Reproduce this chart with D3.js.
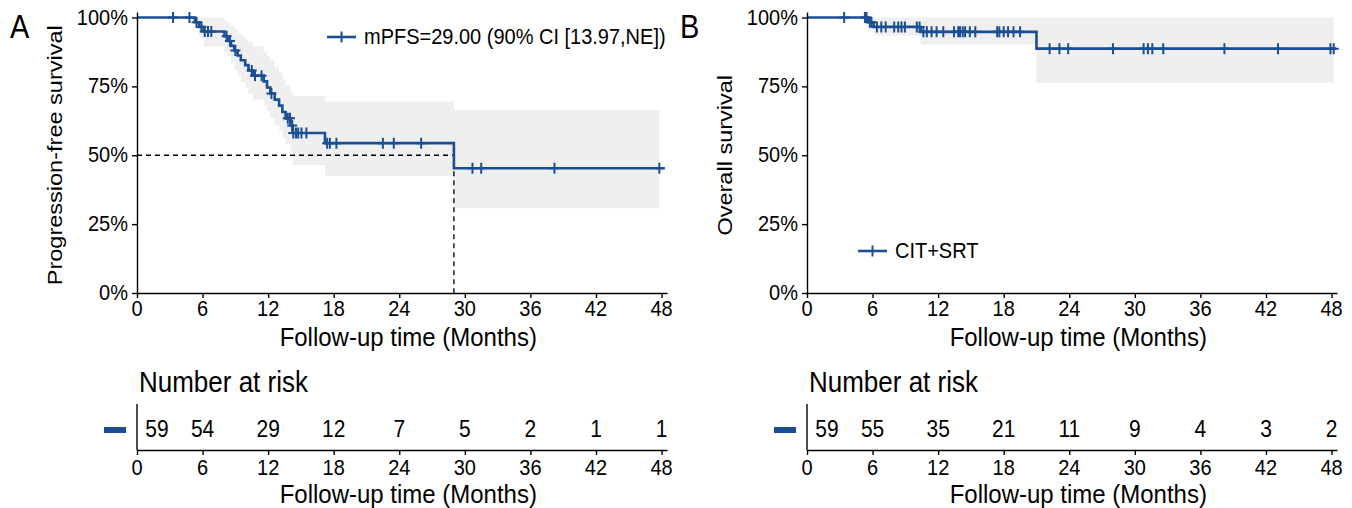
<!DOCTYPE html>
<html><head><meta charset="utf-8">
<script src="https://cdn.jsdelivr.net/npm/d3@7"></script>
<style>
html,body{margin:0;padding:0;background:#fff;}
svg{display:block;}
text{font-family:"Liberation Sans",Arial,sans-serif;fill:#000;}
</style></head>
<body>
<svg id="chart" width="1352" height="508"></svg>
<script>
// ---------- DATA ----------
const xTicks = [0, 6, 12, 18, 24, 30, 36, 42, 48];
const yTicks = [0, 0.25, 0.5, 0.75, 1];

// Panel A: progression-free survival (KM steps)
const pfsTimes = [0, 5.3, 5.7, 6.1, 8.0, 8.3, 8.6, 8.9, 9.2, 9.5, 9.9, 10.2, 10.6, 11.6, 11.9, 12.2, 12.6, 13.0, 13.3, 13.6, 14.05, 14.25, 17.2, 29.0];
const pfsSurv  = [1, 0.983, 0.966, 0.949, 0.932, 0.915, 0.897, 0.880, 0.862, 0.845, 0.827, 0.808, 0.789, 0.768, 0.746, 0.724, 0.702, 0.680, 0.657, 0.634, 0.608, 0.581, 0.544, 0.453];
const pfsLower = [1, 0.96, 0.925, 0.895, 0.875, 0.86, 0.835, 0.81, 0.79, 0.765, 0.745, 0.725, 0.70, 0.68, 0.66, 0.635, 0.61, 0.59, 0.565, 0.54, 0.51, 0.465, 0.425, 0.308];
const pfsUpper = [1, 1, 1, 1, 0.99, 0.98, 0.97, 0.96, 0.945, 0.935, 0.92, 0.91, 0.895, 0.875, 0.86, 0.845, 0.82, 0.80, 0.775, 0.755, 0.73, 0.715, 0.695, 0.665];
const pfsCensor = [3.3, 4.8, 5.45, 5.9, 6.2, 6.5, 6.8, 8.2, 8.5, 9.0, 10.5, 10.8, 11.4, 12.3, 13.8, 14.0, 14.2, 14.3, 14.55, 14.75, 15.05, 15.5, 17.4, 17.65, 18.25, 22.5, 23.5, 26.0, 30.7, 31.5, 38.2, 47.8];
const pfsEnd = 48.3;
const pfsMedian = 29.0;
const pfsLegend = "mPFS=29.00 (90% CI [13.97,NE])";
const pfsRisk = [59, 54, 29, 12, 7, 5, 2, 1, 1];

// Panel B: overall survival
const osTimes = [0, 5.6, 6.1, 10.4, 21.0];
const osSurv  = [1, 0.983, 0.966, 0.948, 0.887];
const osLower = [1, 0.955, 0.935, 0.902, 0.763];
const osUpper = [1, 1, 1, 1, 1];
const osCensor = [3.4, 5.3, 5.45, 5.75, 5.9, 6.4, 6.8, 7.2, 7.98, 8.35, 8.65, 8.96, 10.05, 10.3, 10.65, 10.97, 11.4, 11.86, 12.47, 13.45, 13.84, 14.0, 14.25, 14.47, 14.9, 15.4, 17.4, 17.6, 18.0, 18.4, 18.9, 19.5, 22.2, 23.1, 23.9, 28.0, 30.8, 31.2, 31.6, 32.6, 38.2, 43.1, 47.9, 48.2];
const osEnd = 48.4;
const osLegend = "CIT+SRT";
const osRisk = [59, 55, 35, 21, 11, 9, 4, 3, 2];

// ---------- DRAW ----------
const BLUE = "#1b4f93";
const RIBBON = "#efefef";
const svg = d3.select("#chart");

function txt(g, x, y, s, size, anchor, rot, sy) {
  sy = sy || 1.12;
  return g.append("text").text(s)
    .attr("font-size", size).attr("text-anchor", anchor || "start")
    .attr("transform", `translate(${x},${y}) scale(1,${sy})` + (rot ? ` rotate(${rot})` : ""));
}

function panel(cfg) {
  const g = svg.append("g");
  const x = d3.scaleLinear().domain([0, 48.5]).range([cfg.x0, cfg.x0 + 530]);
  const y = d3.scaleLinear().domain([0, 1.02]).range([293, 12]);

  const steps = cfg.times.map((t, i) => ({t, s: cfg.surv[i], lo: cfg.lower[i], hi: cfg.upper[i]}));
  const lastC = d3.max(cfg.censor);
  const ribbonPts = steps.slice(1).concat([{t: lastC, lo: cfg.lower[cfg.lower.length-1], hi: cfg.upper[cfg.upper.length-1]}]);

  // ribbon
  g.append("path").datum(ribbonPts)
    .attr("d", d3.area().curve(d3.curveStepAfter).x(d => x(d.t)).y0(d => y(d.lo)).y1(d => y(d.hi)))
    .attr("fill", RIBBON);

  // median lines
  if (cfg.median != null) {
    g.append("path").attr("d", d3.line()([[x(0), y(0.5)], [x(cfg.median), y(0.5)], [x(cfg.median), y(0)]]))
      .attr("fill", "none").attr("stroke", "#000").attr("stroke-width", 1.3).attr("stroke-dasharray", "5,4");
  }

  // KM line
  const linePts = steps.concat([{t: cfg.end, s: cfg.surv[cfg.surv.length-1]}]);
  g.append("path").datum(linePts)
    .attr("d", d3.line().curve(d3.curveStepAfter).x(d => x(d.t)).y(d => y(d.s)))
    .attr("fill", "none").attr("stroke", BLUE).attr("stroke-width", 2.6);

  // censor marks
  const sAt = t => cfg.surv[d3.bisectRight(cfg.times, t) - 1];
  g.selectAll(".cens").data(cfg.censor).join("path")
    .attr("d", "M-5,0H5M0,-5.5V5.5")
    .attr("transform", d => `translate(${x(d)},${y(sAt(d))})`)
    .attr("stroke", BLUE).attr("stroke-width", 2).attr("fill", "none");

  // axes
  const ax = g.append("g").attr("transform", "translate(0,293)")
    .call(d3.axisBottom(x).tickValues(xTicks).tickSize(5).tickPadding(4).tickSizeOuter(0));
  const ay = g.append("g").attr("transform", `translate(${cfg.x0},0)`)
    .call(d3.axisLeft(y).tickValues(yTicks).tickFormat(d3.format(".0%")).tickSize(5).tickPadding(4).tickSizeOuter(0));
  [ax, ay].forEach(a => {
    a.select(".domain").attr("stroke", "#000").attr("stroke-width", 1.4);
    a.selectAll(".tick line").attr("stroke", "#000").attr("stroke-width", 1.4);
    a.selectAll(".tick text").remove();
  });
  xTicks.forEach(v => txt(g, x(v), 316, String(v), 20, "middle"));
  yTicks.forEach(v => txt(g, cfg.x0 - 9, y(v) + 7, d3.format(".0%")(v), 20, "end"));

  txt(g, x(24) + 9, 346, "Follow-up time (Months)", 24, "middle", null, 1.05);
  txt(g, cfg.x0 - 75, y(0.5), cfg.ytitle, 21, "middle", -90);
  txt(g, cfg.x0 - 127, 38, cfg.letter, 29, "start");

  // legend
  const lg = g.append("g");
  lg.append("line").attr("x1", cfg.lx).attr("x2", cfg.lx + 29).attr("y1", cfg.ly).attr("y2", cfg.ly)
    .attr("stroke", BLUE).attr("stroke-width", 2.6);
  lg.append("path").attr("d", "M-5,0H5M0,-5.5V5.5").attr("transform", `translate(${cfg.lx + 14.5},${cfg.ly})`)
    .attr("stroke", BLUE).attr("stroke-width", 2).attr("fill", "none");
  txt(lg, cfg.lx + 37, cfg.ly + 7, cfg.legend, 20, "start");

  // risk table
  const rt = svg.append("g");
  txt(rt, cfg.x0 + 2, 392, "Number at risk", 26, "start");
  const rax = rt.append("g").attr("transform", "translate(0,450)")
    .call(d3.axisBottom(x).tickValues(xTicks).tickSize(5).tickPadding(4).tickSizeOuter(0));
  rax.select(".domain").attr("stroke", "#000").attr("stroke-width", 1.4);
  rax.selectAll(".tick line").attr("stroke", "#000").attr("stroke-width", 1.4);
  rax.selectAll(".tick text").remove();
  rt.append("line").attr("x1", cfg.x0).attr("x2", cfg.x0).attr("y1", 404).attr("y2", 450)
    .attr("stroke", "#000").attr("stroke-width", 1.4);
  xTicks.forEach(v => txt(rt, x(v), 475, String(v), 20, "middle"));
  txt(rt, x(24) + 9, 503, "Follow-up time (Months)", 24, "middle", null, 1.04);
  cfg.risk.forEach((n, i) => {
    const t = xTicks[i];
    txt(rt, t === 0 ? x(t) + 20 : x(t), 437, String(n), 21, "middle");
  });
  rt.append("rect").attr("x", cfg.x0 - 33).attr("y", 427).attr("width", 22).attr("height", 6).attr("fill", BLUE);
}

panel({x0: 137, times: pfsTimes, surv: pfsSurv, lower: pfsLower, upper: pfsUpper, censor: pfsCensor,
  end: pfsEnd, median: pfsMedian, legend: pfsLegend, risk: pfsRisk, ytitle: "Progression-free survival",
  letter: "A", lx: 327, ly: 37});
panel({x0: 807, times: osTimes, surv: osSurv, lower: osLower, upper: osUpper, censor: osCensor,
  end: osEnd, median: null, legend: osLegend, risk: osRisk, ytitle: "Overall survival",
  letter: "B", lx: 858, ly: 251});
</script>
</body></html>
